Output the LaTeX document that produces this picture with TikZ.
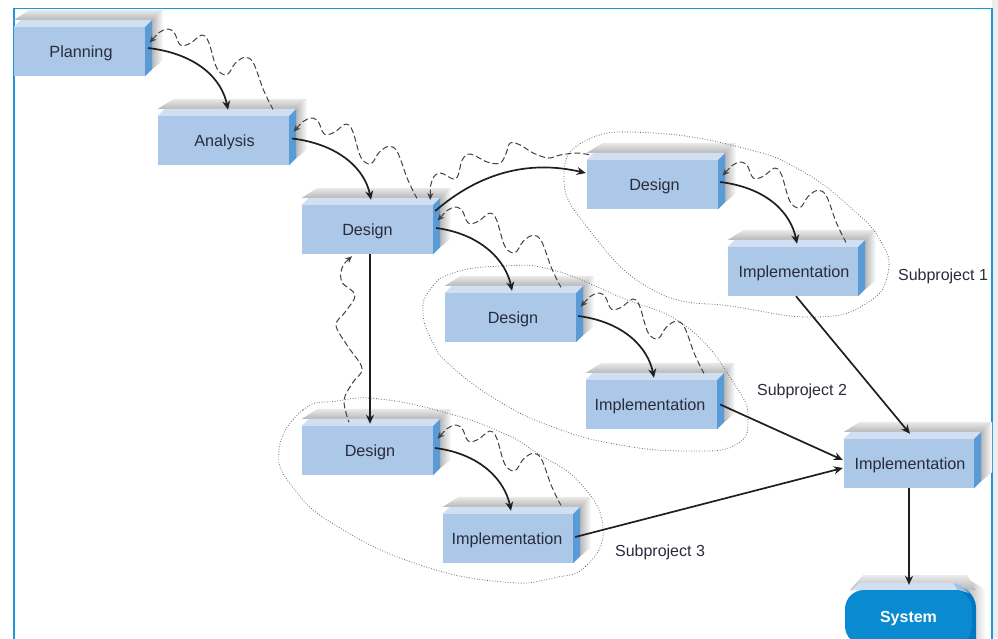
\documentclass[tikz,border=0pt]{standalone}
\usepackage{fontspec}
\setmainfont{Liberation Sans}
\usetikzlibrary{calc,arrows.meta}
\definecolor{frontc}{HTML}{ABC8E8}
\definecolor{bandc}{HTML}{D0DFF2}
\definecolor{sidec}{HTML}{5B9BD5}
\definecolor{shadec}{HTML}{B8B8B8}
\definecolor{shadetop}{HTML}{EAEAEA}
\definecolor{framec}{HTML}{1E96D8}
\definecolor{inkc}{HTML}{2B2B3B}
\definecolor{sysc}{HTML}{0A8AD0}
\definecolor{sysside}{HTML}{0077C0}
\definecolor{syscorner}{HTML}{9CC2E6}
\tikzset{
  boxface/.style={fill=frontc,inner sep=0pt,text=inkc,font=\fontsize{16.2}{18}\selectfont},
  flow/.style={draw=black!88,line width=1.7pt,-{Stealth[length=9pt,width=8pt]}},
  back/.style={draw=black!75,line width=1pt,dash pattern=on 6pt off 3pt,{Stealth[length=7pt,width=6pt]}-},
  ring/.style={draw=black!60,line width=.8pt,dash pattern=on .8pt off 1.8pt},
  sublabel/.style={text=inkc,font=\fontsize{16}{18}\selectfont,inner sep=0pt}
}
\newcommand{\mybox}[6]{%
  \pgfmathsetmacro{\cxx}{(#2+#4)/2}\pgfmathsetmacro{\cyy}{(#3+#5)/2}%
  \pgfmathsetmacro{\wxx}{#4-#2}\pgfmathsetmacro{\hyy}{#5-#3}%
  \node[boxface,minimum width=\wxx pt,minimum height=\hyy pt] (#1) at (\cxx,\cyy) {\raisebox{-6pt}[0pt][0pt]{#6}};
  \shade[left color=shadec,right color=white]
    ($(#1.north east)+(7,-7)$) -- ($(#1.north east)+(18,-17)$) -- ($(#1.south east)+(18,-16)$) -- ($(#1.south east)+(7,-7)$) -- cycle;
  \shade[top color=shadetop,bottom color=shadec]
    ($(#1.north west)+(0,-7)$) -- ($(#1.north west)+(16,-17)$) -- ($(#1.north east)+(18,-17)$) -- ($(#1.north east)+(7,-7)$) -- cycle;
  \fill[bandc] (#1.north west) -- ($(#1.north west)+(7,-7)$) -- ($(#1.north east)+(7,-7)$) -- (#1.north east) -- cycle;
  \fill[sidec] (#1.north east) -- ($(#1.north east)+(7,-7)$) -- ($(#1.south east)+(7,-7)$) -- (#1.south east) -- cycle;
}
\newcommand{\waves}[1]{%
  \begin{scope}[shift={(#1)}]
    \draw[back] plot[smooth,tension=.6] coordinates {(4.3,-8.8)(18.3,-21.5)(28.3,-19.8)(35,-6.5)(45,-8.2)(56.7,-16.5)(63.3,-9.8)(71.7,16.8)(81.7,23.2)(90,11.8)(100,5.8)(108.3,11.8)(118.3,38.5)(127.7,57.8)};
  \end{scope}}
\begin{document}
\begin{tikzpicture}[x=1pt,y=-1pt]
\useasboundingbox (0,0) rectangle (998,638);
\clip (0,0) rectangle (998,638);
\fill[black!7] (992,0) rectangle (998,638);
\draw[framec,line width=1.1pt] (14,650) -- (14,8.5) -- (992,8.5) -- (992,650);
% boxes
\mybox{plan}{14}{27}{145}{76}{\kern3pt Planning}
\mybox{ana}{158}{116}{289}{165}{\kern2pt Analysis}
\mybox{des}{302}{205}{433}{254}{Design}
\mybox{desa}{587}{160}{718}{209}{\kern4pt Design}
\mybox{impa}{728}{247}{858}{296}{\kern2pt Implementation}
\mybox{desb}{445}{293}{576}{342}{\kern5pt Design}
\mybox{impb}{586}{380}{717}{429}{\kern-3pt Implementation}
\mybox{desc}{302}{426}{433}{475}{\kern5pt Design}
\mybox{impc}{443}{514}{573}{563}{\kern-2pt Implementation}
\mybox{impf}{844}{439}{974}{488}{\kern2pt Implementation}
% system block
\shade[left color=shadec,right color=white] (966,578) -- (986,590) -- (986,645) -- (966,645) -- cycle;
\shade[top color=shadetop,bottom color=shadec] (850,590) -- (863,575) -- (967,575) -- (976,590) -- cycle;
\fill[sysside,rounded corners=10pt] (940,584) -- (957,583) -- (976,597) -- (976,650) -- (940,650) -- cycle;
\fill[syscorner] (953,583) -- (960,585) -- (969,593) -- (958,590) -- cycle;
\fill[bandc] (851,590) -- (860,583) -- (953,583) -- (958,590) -- cycle;
\node[fill=sysc,rounded corners=19pt,inner sep=0pt,minimum width=127pt,minimum height=55pt,text=white,font=\fontsize{16}{18}\selectfont\bfseries] (sys) at (908.5,617.5) {\raisebox{-4.5pt}[0pt][0pt]{System}};
% subproject rings
\draw[ring] plot[smooth cycle,tension=.8] coordinates {(564,177)(587,227)(653,290)(737,307)(817,317)(867,303)(888,273)(880,240)(850,207)(800,170)(743,148)(653,133)(587,140)};
\draw[ring] plot[smooth cycle,tension=.8] coordinates {(423,313)(430,290)(453,273)(503,266)(553,270)(620,297)(687,327)(735,385)(748,420)(735,445)(690,451)(620,445)(553,427)(497,400)(450,365)(433,343)};
\draw[ring] plot[smooth cycle,tension=.8] coordinates {(279,450)(303,410)(337,401)(380,399)(447,413)(503,433)(537,453)(580,483)(603,527)(587,565)(553,578)(503,582)(420,565)(340,528)(295,490)};
% forward flows
\draw[flow] ($(plan.east)+(3,-3.5)$) .. controls +(50,6) and +(-6,-30) .. ($(ana.north)+(4.5,-6)$);
\draw[flow] ($(ana.east)+(3,-2)$) .. controls +(48,6) and +(-6,-30) .. ($(des.north)+(3.5,-5)$);
\draw[flow] ($(des.east)+(2,-18.5)$) .. controls +(45,-39) and +(-56,-13) .. ($(desa.west)+(-1,-11.5)$);
\draw[flow] ($(des.east)+(3,-1.5)$) .. controls +(45,6) and +(-6,-30) .. ($(desb.north)+(1.5,-2)$);
\draw[flow] ($(desa.east)+(2,-2.5)$) .. controls +(48,6) and +(-6,-30) .. ($(impa.north)+(4,-3)$);
\draw[flow] ($(desb.east)+(2,-1.5)$) .. controls +(46,6) and +(-6,-30) .. ($(impb.north)+(2.5,-2)$);
\draw[flow] ($(desc.east)+(2,-2.5)$) .. controls +(46,6) and +(-6,-30) .. ($(impc.north)+(3,-3)$);
\draw[flow] ($(des.south)+(2.5,0)$) -- ($(desc.north)+(2.5,-2)$);
\draw[flow] ($(impa.south)+(3,0)$) -- ($(impf.north)+(1,-5)$);
\draw[flow] ($(impb.east)+(3,0)$) -- ($(impf.west)+(-1,-3.5)$);
\draw[flow] ($(impc.east)+(2,-1.5)$) -- ($(impf.west)+(-1,4.5)$);
\draw[flow] (impf.south) -- ($(sys.north)+(.5,-5)$);
% rework flows
\waves{plan.east}
\waves{ana.east}
\waves{des.east}
\waves{desa.east}
\waves{$(desb.east)+(0,-2)$}
\waves{$(desc.east)+(0,-3)$}
\begin{scope}[shift={(des.east)}]
\draw[back] plot[smooth,tension=.6] coordinates {(-3,-29.5)(-1,-49.5)(7,-56.5)(20,-50.5)(25,-54.5)(29,-69.5)(37,-75.5)(54,-67.5)(67,-66.5)(73,-76.5)(77,-86.5)(87,-84.5)(100,-76.5)(115,-71.5)(127,-74.5)(144,-76.5)(157,-74.5)};
\end{scope}
\begin{scope}[shift={(des.south)}]
\draw[back] plot[smooth,tension=.6] coordinates {(-15.5,2)(-25.5,14)(-25.5,28)(-12.5,41)(-22.5,58)(-31.5,71)(-20.5,91)(-5.5,114)(-14.5,128)(-23.5,146)(-18.5,168)};
\end{scope}
% labels
\node[sublabel] (laba) at (943,276) {Subproject 1};
\node[sublabel] (labb) at (802,391) {Subproject 2};
\node[sublabel] (labc) at (660,552) {Subproject 3};
\end{tikzpicture}
\end{document}
